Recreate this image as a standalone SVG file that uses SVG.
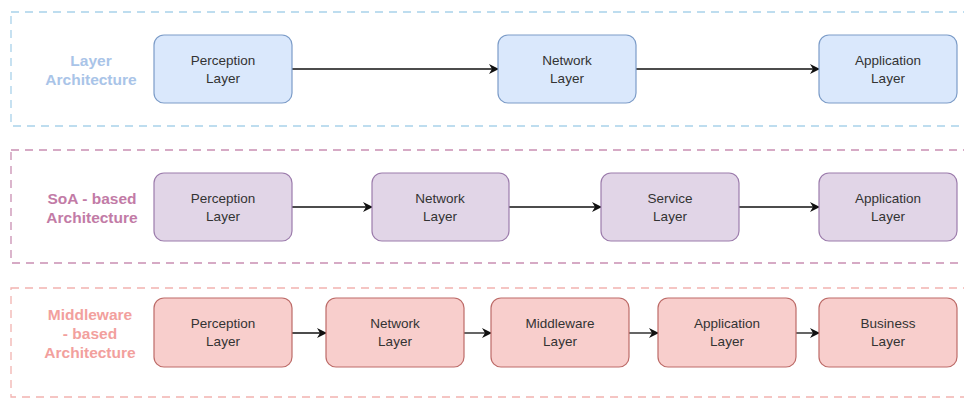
<svg xmlns="http://www.w3.org/2000/svg" width="964" height="399" viewBox="0 0 964 399">
<defs>
<marker id="ah" viewBox="0 0 10 10" refX="9" refY="5" markerWidth="10" markerHeight="10" markerUnits="userSpaceOnUse" orient="auto">
<path d="M0,0 L10,5 L0,10 L3,5 Z" fill="#111"/>
</marker>
<style>
.cont{fill:none;stroke-width:1.3;stroke-dasharray:8 6}
.c1{stroke:#a9d2ea}
.c2{stroke:#c98fb2}
.c3{stroke:#f2b3b0}
.n{stroke-width:1.2}
.b{fill:#dae8fc;stroke:#7c9cc8}
.p{fill:#e1d5e7;stroke:#9c7cac}
.r{fill:#f8cecc;stroke:#bd6b68}
.t{font-family:"Liberation Sans",Arial,sans-serif;font-size:13.5px;fill:#333;text-anchor:middle}
.lbl{font-family:"Liberation Sans",Arial,sans-serif;font-size:15.5px;font-weight:bold;text-anchor:middle}
.e{stroke:#111;stroke-width:1.3;fill:none;marker-end:url(#ah)}
</style>
</defs>
<g id="containers">
<rect class="cont c1" x="11" y="12" width="970" height="114"/>
<rect class="cont c2" x="11" y="150" width="970" height="113"/>
<rect class="cont c3" x="11" y="288" width="970" height="109"/>
</g>
<g id="labels">
<text class="lbl" x="91" y="66" fill="#a9c4e8">Layer</text>
<text class="lbl" x="91" y="85" fill="#a9c4e8">Architecture</text>
<text class="lbl" x="92" y="204" fill="#c27ba6">SoA - based</text>
<text class="lbl" x="92" y="223" fill="#c27ba6">Architecture</text>
<text class="lbl" x="90" y="320" fill="#f2a09d">Middleware</text>
<text class="lbl" x="90" y="339" fill="#f2a09d">- based</text>
<text class="lbl" x="90" y="358" fill="#f2a09d">Architecture</text>
</g>
<g id="connectors">
<line class="e" x1="292" y1="69" x2="498" y2="69"/>
<line class="e" x1="636" y1="69" x2="819" y2="69"/>
<line class="e" x1="292" y1="207" x2="372" y2="207"/>
<line class="e" x1="509" y1="207" x2="601" y2="207"/>
<line class="e" x1="739" y1="207" x2="819" y2="207"/>
<line class="e" x1="292" y1="333" x2="326" y2="333"/>
<line class="e" x1="464" y1="333" x2="491" y2="333"/>
<line class="e" x1="629" y1="333" x2="658" y2="333"/>
<line class="e" x1="796" y1="333" x2="819" y2="333"/>
</g>
<g id="l1-perception"><rect class="n b" x="154" y="35" width="138" height="68" rx="10"/><text class="t" x="223" y="65">Perception</text><text class="t" x="223" y="83">Layer</text></g>
<g id="l1-network"><rect class="n b" x="498" y="35" width="138" height="68" rx="10"/><text class="t" x="567" y="65">Network</text><text class="t" x="567" y="83">Layer</text></g>
<g id="l1-application"><rect class="n b" x="819" y="35" width="138" height="68" rx="10"/><text class="t" x="888" y="65">Application</text><text class="t" x="888" y="83">Layer</text></g>
<g id="l2-perception"><rect class="n p" x="154" y="173" width="138" height="68" rx="10"/><text class="t" x="223" y="203">Perception</text><text class="t" x="223" y="221">Layer</text></g>
<g id="l2-network"><rect class="n p" x="372" y="173" width="137" height="68" rx="10"/><text class="t" x="440" y="203">Network</text><text class="t" x="440" y="221">Layer</text></g>
<g id="l2-service"><rect class="n p" x="601" y="173" width="138" height="68" rx="10"/><text class="t" x="670" y="203">Service</text><text class="t" x="670" y="221">Layer</text></g>
<g id="l2-application"><rect class="n p" x="819" y="173" width="138" height="68" rx="10"/><text class="t" x="888" y="203">Application</text><text class="t" x="888" y="221">Layer</text></g>
<g id="l3-perception"><rect class="n r" x="154" y="298" width="138" height="69" rx="10"/><text class="t" x="223" y="328">Perception</text><text class="t" x="223" y="346">Layer</text></g>
<g id="l3-network"><rect class="n r" x="326" y="298" width="138" height="69" rx="10"/><text class="t" x="395" y="328">Network</text><text class="t" x="395" y="346">Layer</text></g>
<g id="l3-middleware"><rect class="n r" x="491" y="298" width="138" height="69" rx="10"/><text class="t" x="560" y="328">Middleware</text><text class="t" x="560" y="346">Layer</text></g>
<g id="l3-application"><rect class="n r" x="658" y="298" width="138" height="69" rx="10"/><text class="t" x="727" y="328">Application</text><text class="t" x="727" y="346">Layer</text></g>
<g id="l3-business"><rect class="n r" x="819" y="298" width="138" height="69" rx="10"/><text class="t" x="888" y="328">Business</text><text class="t" x="888" y="346">Layer</text></g>
</svg>
